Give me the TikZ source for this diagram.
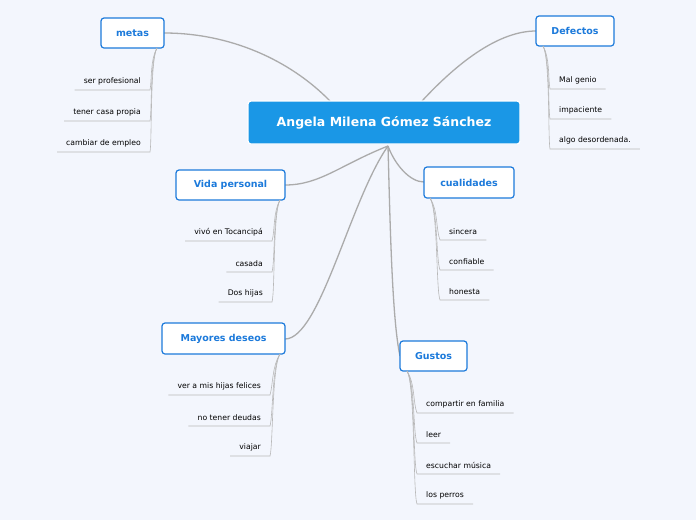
\documentclass[tikz,border=0pt]{standalone}
\usepackage{fontspec}
\setmainfont{DejaVu Sans}
\definecolor{cblue}{HTML}{1A97E6}
\definecolor{bblue}{HTML}{1C7ADB}
\definecolor{bg}{HTML}{F3F6FD}
\begin{document}
\begin{tikzpicture}[x=1pt,y=-1pt,
  con/.style={draw=black!33,line width=1.3pt},
  sub/.style={draw=black!28,line width=0.6pt},
  branch/.style={draw=bblue,line width=1.2pt,fill=white,rounded corners=3pt,font=\bfseries\fontsize{9.5}{11}\selectfont,text=bblue,inner sep=0pt},
  leafl/.style={anchor=south east,font=\fontsize{7.7}{9}\selectfont,inner xsep=9pt,inner ysep=5pt},
  leafr/.style={anchor=south west,font=\fontsize{7.7}{9}\selectfont,inner xsep=9pt,inner ysep=5pt}]
\fill[bg] (0,0) rectangle (696,520);
\useasboundingbox (0,0) rectangle (696,520);
\coordinate (hub) at (388,146);
\draw[con] (330,101) .. controls (290,60) and (230,33) .. (164,33);
\draw[con] (422,101) .. controls (460,60) and (500,31) .. (536,31);
\draw[con] (hub) .. controls (340,165) and (320,185) .. (285,185);
\draw[con] (hub) .. controls (395,165) and (410,182) .. (424,182);
\draw[con] (hub) .. controls (350,200) and (320,339) .. (285,339);
\draw[con] (hub) .. controls (390,220) and (392,320) .. (400,356);
\node[branch,minimum width=272,minimum height=43,fill=cblue,draw=white,text=white,font=\bfseries\fontsize{12.5}{14}\selectfont] (c) at (384,122.5) {Angela Milena Gómez Sánchez};
\node[branch,minimum width=63,minimum height=30] (metas) at (132.5,33) {metas};
\node[branch,minimum width=78,minimum height=30] (def) at (575,31) {Defectos};
\node[branch,minimum width=109,minimum height=30] (vida) at (230.5,185) {Vida personal};
\node[branch,minimum width=90,minimum height=31] (cual) at (469,182.5) {cualidades};
\node[branch,minimum width=123,minimum height=31] (may) at (223.5,338.5) {Mayores deseos};
\node[branch,minimum width=67,minimum height=30] (gus) at (433.5,356) {Gustos};
\foreach \t/\y [count=\i] in {ser profesional/90,tener casa propia/121,cambiar de empleo/152}{
  \node[leafl] (m\i) at (150,\y) {\t};
  \draw[sub] (157,48) .. controls (150,60) and (152,\y-10) .. (m\i.south east) -- (m\i.south west);}
\foreach \t/\y [count=\i] in {vivó en Tocancipá/241,casada/272,Dos hijas/302}{
  \node[leafl] (v\i) at (272,\y) {\t};
  \draw[sub] (280,200) .. controls (273,212) and (275,\y-10) .. (v\i.south east) -- (v\i.south west);}
\foreach \t/\y [count=\i] in {ver a mis hijas felices/395,no tener deudas/426,viajar/456}{
  \node[leafl] (d\i) at (270,\y) {\t};
  \draw[sub] (280,354) .. controls (272,366) and (273,\y-10) .. (d\i.south east) -- (d\i.south west);}
\foreach \t/\y [count=\i] in {Mal genio/89,impaciente/119,algo desordenada./149}{
  \node[leafr] (f\i) at (550,\y) {\t};
  \draw[sub] (543,46) .. controls (550,58) and (548,\y-10) .. (f\i.south west) -- (f\i.south east);}
\foreach \t/\y [count=\i] in {sincera/240,confiable/270,honesta/300}{
  \node[leafr] (q\i) at (440,\y) {\t};
  \draw[sub] (430,198) .. controls (438,210) and (436,\y-10) .. (q\i.south west) -- (q\i.south east);}
\foreach \t/\y [count=\i] in {compartir en familia/413,leer/443,escuchar música/474,los perros/504}{
  \node[leafr] (g\i) at (417,\y) {\t};
  \draw[sub] (407,371) .. controls (415,383) and (413,\y-10) .. (g\i.south west) -- (g\i.south east);}
\end{tikzpicture}
\end{document}
